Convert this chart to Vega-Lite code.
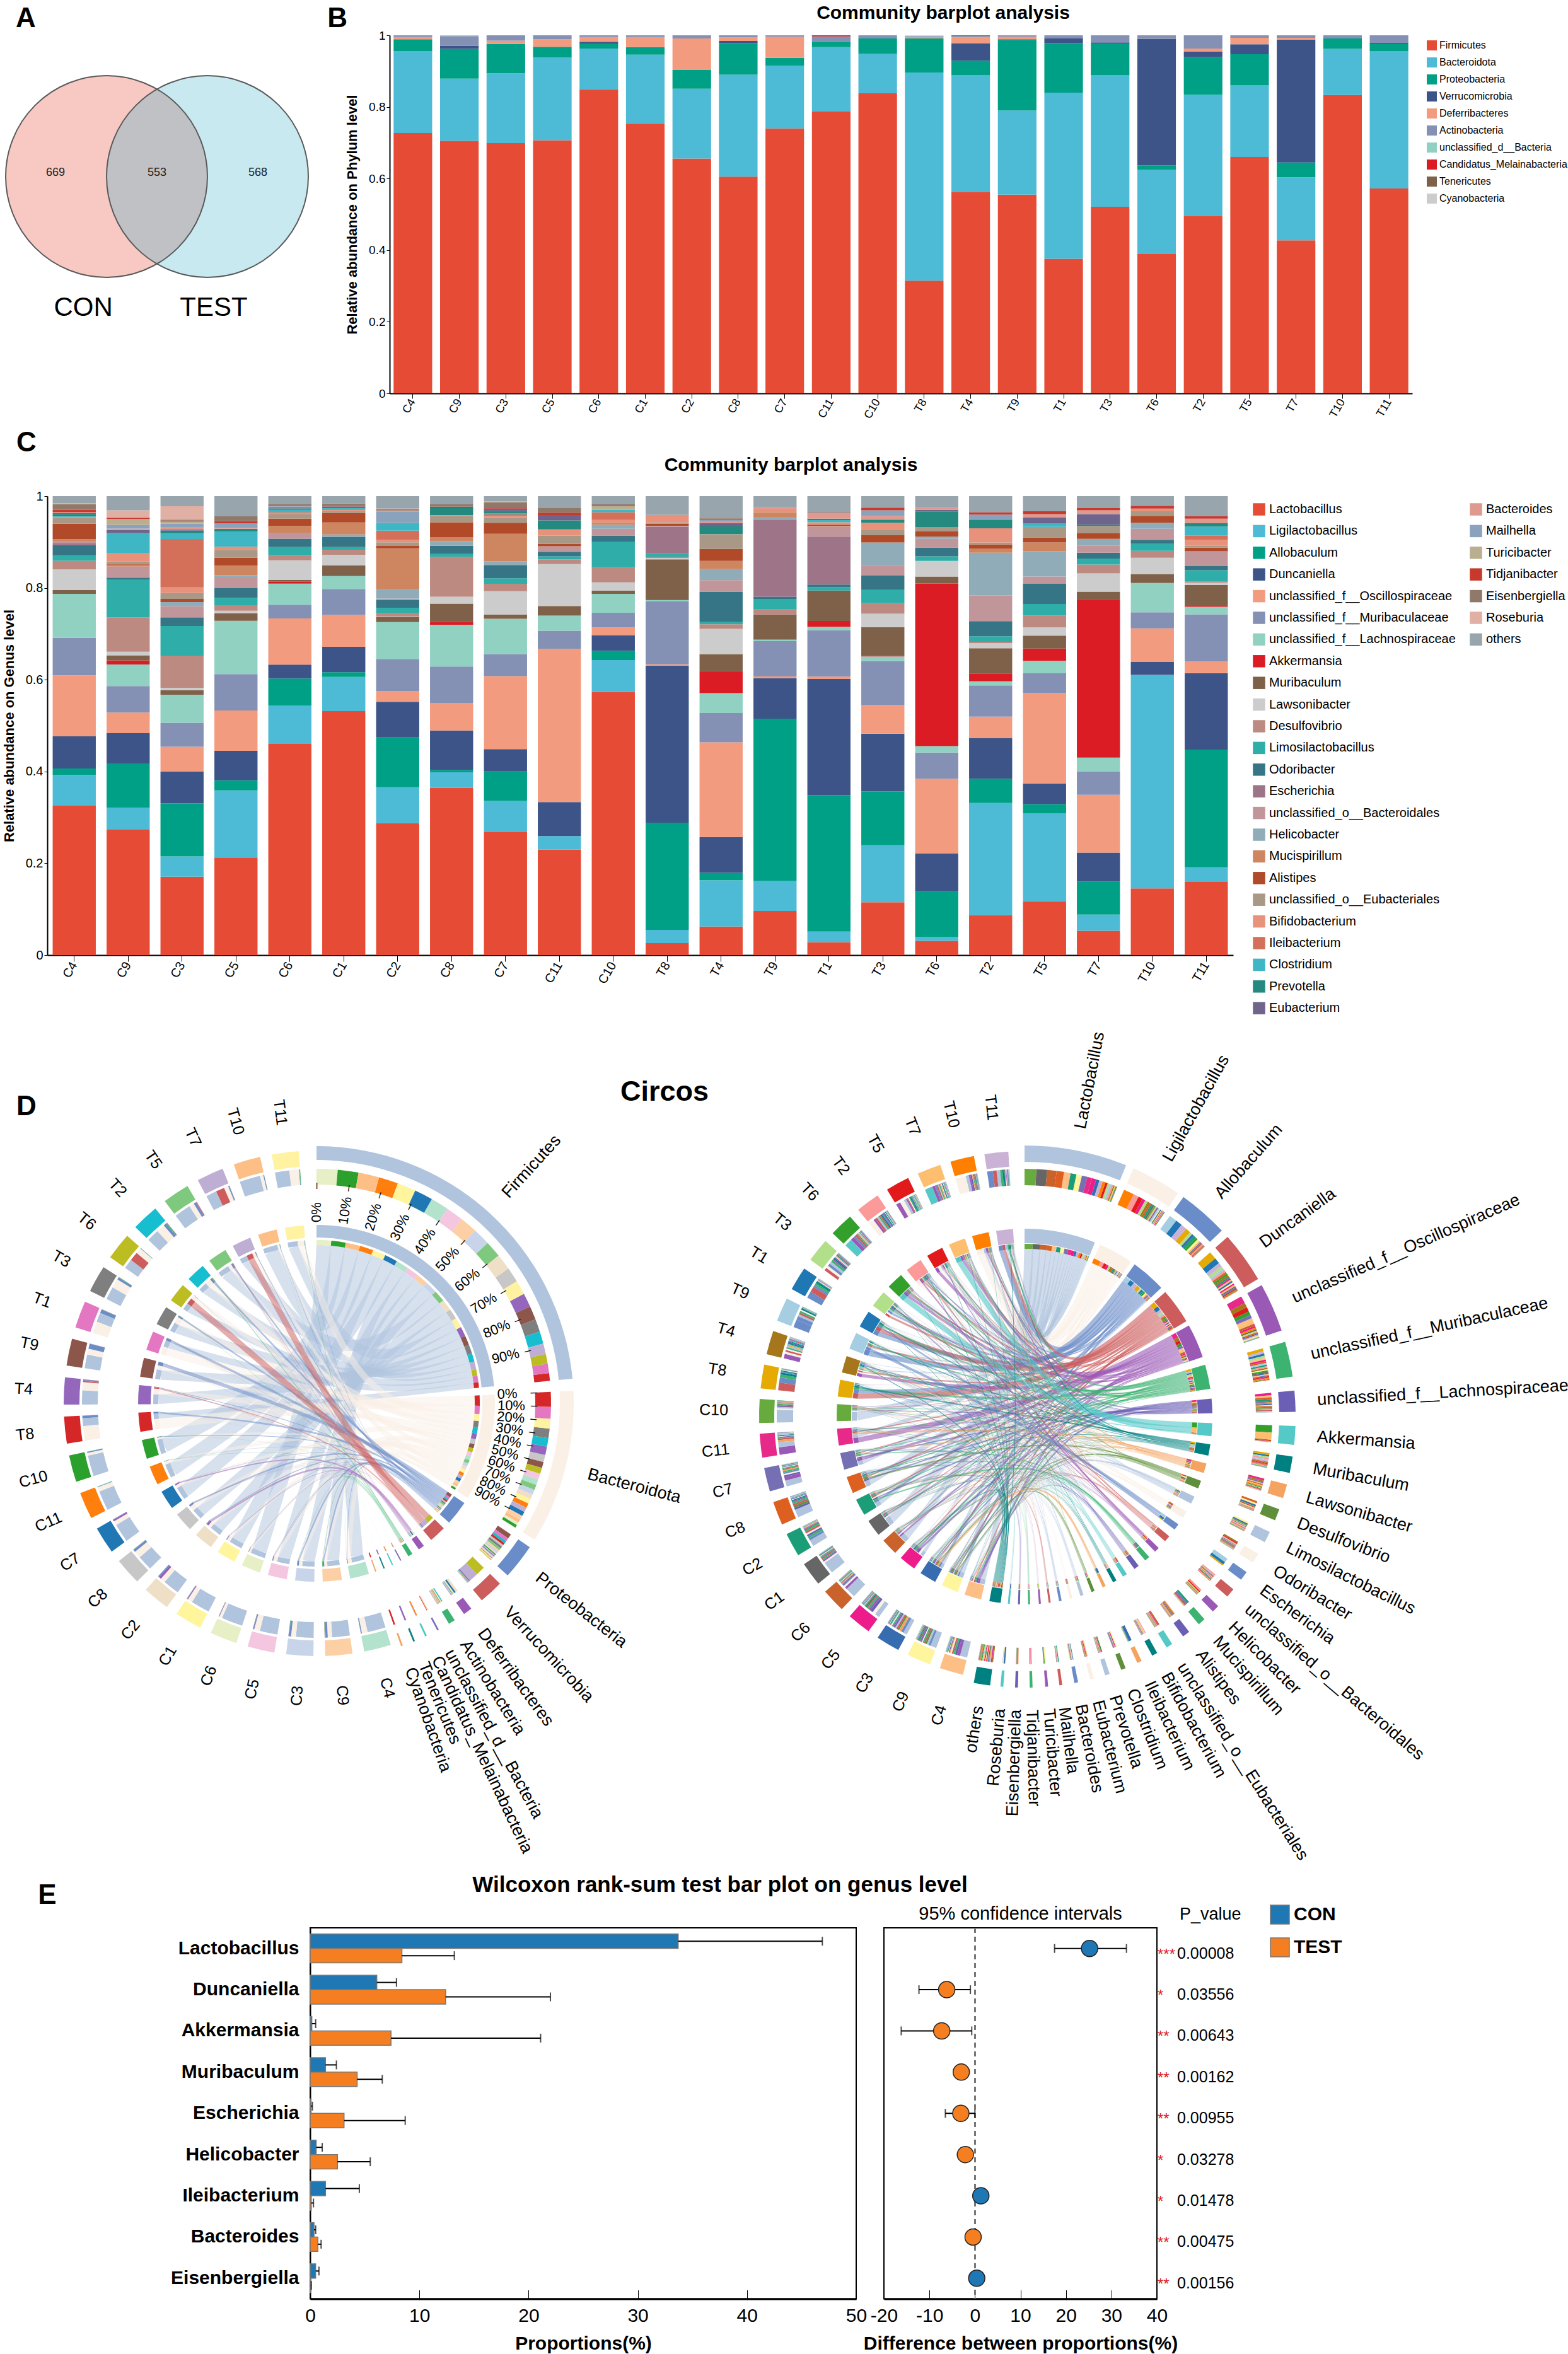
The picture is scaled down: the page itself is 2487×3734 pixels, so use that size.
{"$schema":"https://vega.github.io/schema/vega-lite/v6.json","padding":0,"spacing":0,"bounds":"flush","resolve":{"scale":{"color":"independent"}},
"config":{"font":"Liberation Sans","view":{"stroke":null},"axis":{"grid":false,"labelColor":"#000","titleColor":"#000","tickColor":"#000","domainColor":"#000"}},
"datasets":{
"phy":[
{"g":"Firmicutes","C4":0.727,"C9":0.705,"C3":0.699,"C5":0.707,"C6":0.849,"C1":0.754,"C2":0.656,"C8":0.605,"C7":0.74,"C11":0.786,"C10":0.838,"T8":0.315,"T4":0.563,"T9":0.555,"T1":0.376,"T3":0.521,"T6":0.389,"T2":0.496,"T5":0.66,"T7":0.427,"T10":0.833,"T11":0.572},
{"g":"Bacteroidota","C4":0.228,"C9":0.174,"C3":0.195,"C5":0.231,"C6":0.114,"C1":0.192,"C2":0.195,"C8":0.285,"C7":0.175,"C11":0.18,"C10":0.11,"T8":0.582,"T4":0.326,"T9":0.235,"T1":0.464,"T3":0.367,"T6":0.235,"T2":0.338,"T5":0.2,"T7":0.176,"T10":0.129,"T11":0.383},
{"g":"Proteobacteria","C4":0.034,"C9":0.083,"C3":0.082,"C5":0.03,"C6":0.014,"C1":0.021,"C2":0.053,"C8":0.088,"C7":0.022,"C11":0.016,"C10":0.043,"T8":0.095,"T4":0.04,"T9":0.197,"T1":0.138,"T3":0.088,"T6":0.013,"T2":0.105,"T5":0.087,"T7":0.041,"T10":0.029,"T11":0.022},
{"g":"Verrucomicrobia","C9":0.009,"C6":0.005,"C8":0.006,"T4":0.048,"T9":0.002,"T1":0.013,"T3":0.004,"T6":0.353,"T2":0.016,"T5":0.028,"T7":0.343,"T11":0.002},
{"g":"Deferribacteres","C4":0.006,"C3":0.009,"C5":0.021,"C6":0.013,"C1":0.028,"C2":0.087,"C8":0.01,"C7":0.059,"T8":0.004,"T4":0.017,"T9":0.007,"T2":0.008,"T5":0.018,"T7":0.005},
{"g":"Actinobacteria","C4":0.005,"C9":0.027,"C3":0.015,"C5":0.011,"C6":0.005,"C1":0.005,"C2":0.009,"C8":0.006,"C7":0.004,"C11":0.014,"C10":0.009,"T8":0.003,"T4":0.004,"T9":0.004,"T1":0.009,"T3":0.02,"T6":0.01,"T2":0.037,"T5":0.007,"T7":0.006,"T10":0.009,"T11":0.021},
{"g":"unclassified_d__Bacteria","C9":0.002,"T8":0.001},
{"g":"Candidatus_Melainabacteria","C11":0.003,"T7":0.001},
{"g":"Tenericutes","T4":0.002},
{"g":"Cyanobacteria","T8":0.001}],
"gen":[
{"g":"Lactobacillus","C4":0.326,"C9":0.274,"C3":0.17,"C5":0.212,"C6":0.461,"C1":0.528,"C2":0.286,"C8":0.364,"C7":0.269,"C11":0.23,"C10":0.573,"T8":0.026,"T4":0.062,"T9":0.096,"T1":0.028,"T3":0.115,"T6":0.031,"T2":0.087,"T5":0.117,"T7":0.053,"T10":0.145,"T11":0.16},
{"g":"Ligilactobacillus","C4":0.067,"C9":0.048,"C3":0.044,"C5":0.146,"C6":0.084,"C1":0.074,"C2":0.078,"C8":0.034,"C7":0.067,"C11":0.029,"C10":0.07,"T8":0.029,"T4":0.101,"T9":0.066,"T1":0.023,"T3":0.124,"T6":0.008,"T2":0.244,"T5":0.192,"T7":0.035,"T10":0.465,"T11":0.031},
{"g":"Allobaculum","C4":0.014,"C9":0.097,"C3":0.115,"C5":0.022,"C6":0.059,"C1":0.01,"C2":0.108,"C8":0.005,"C7":0.064,"C10":0.02,"T8":0.234,"T4":0.016,"T9":0.353,"T1":0.296,"T3":0.117,"T6":0.1,"T2":0.053,"T5":0.02,"T7":0.072,"T11":0.256},
{"g":"Duncaniella","C4":0.07,"C9":0.066,"C3":0.069,"C5":0.064,"C6":0.03,"C1":0.055,"C2":0.077,"C8":0.086,"C7":0.049,"C11":0.074,"C10":0.034,"T8":0.343,"T4":0.078,"T9":0.088,"T1":0.253,"T3":0.126,"T6":0.082,"T2":0.088,"T5":0.045,"T7":0.063,"T10":0.028,"T11":0.166},
{"g":"unclassified_f__Oscillospiraceae","C4":0.133,"C9":0.045,"C3":0.054,"C5":0.088,"C6":0.101,"C1":0.069,"C2":0.023,"C8":0.06,"C7":0.159,"C11":0.334,"C10":0.017,"T8":0.003,"T4":0.206,"T9":0.004,"T1":0.005,"T3":0.062,"T6":0.163,"T2":0.047,"T5":0.197,"T7":0.126,"T10":0.073,"T11":0.025},
{"g":"unclassified_f__Muribaculaceae","C4":0.082,"C9":0.058,"C3":0.052,"C5":0.079,"C6":0.03,"C1":0.056,"C2":0.07,"C8":0.079,"C7":0.048,"C11":0.039,"C10":0.032,"T8":0.137,"T4":0.064,"T9":0.077,"T1":0.101,"T3":0.096,"T6":0.057,"T2":0.068,"T5":0.043,"T7":0.051,"T10":0.035,"T11":0.103},
{"g":"unclassified_f__Lachnospiraceae","C4":0.096,"C9":0.047,"C3":0.061,"C5":0.116,"C6":0.046,"C1":0.028,"C2":0.08,"C8":0.091,"C7":0.077,"C11":0.033,"C10":0.041,"T8":0.003,"T4":0.043,"T9":0.003,"T1":0.007,"T3":0.01,"T6":0.014,"T2":0.009,"T5":0.027,"T7":0.03,"T10":0.064,"T11":0.016},
{"g":"Akkermansia","C9":0.009,"C6":0.004,"C8":0.006,"T8":0.001,"T4":0.048,"T9":0.001,"T1":0.013,"T3":0.003,"T6":0.354,"T2":0.017,"T5":0.027,"T7":0.345,"T11":0.002},
{"g":"Muribaculum","C4":0.008,"C9":0.011,"C3":0.01,"C5":0.016,"C6":0.004,"C1":0.023,"C2":0.011,"C8":0.04,"C7":0.009,"C11":0.021,"C10":0.007,"T8":0.088,"T4":0.037,"T9":0.054,"T1":0.066,"T3":0.061,"T6":0.015,"T2":0.055,"T5":0.028,"T7":0.016,"T10":0.019,"T11":0.046},
{"g":"Lawsonibacter","C4":0.045,"C9":0.008,"C3":0.005,"C5":0.006,"C6":0.043,"C1":0.023,"C2":0.001,"C8":0.015,"C7":0.051,"C11":0.091,"C10":0.018,"T8":0.003,"T4":0.055,"T3":0.029,"T6":0.034,"T2":0.011,"T5":0.018,"T7":0.04,"T10":0.036,"T11":0.005},
{"g":"Desulfovibrio","C4":0.019,"C9":0.075,"C3":0.07,"C5":0.012,"C6":0.01,"C1":0.011,"C2":0.008,"C8":0.087,"C7":0.016,"C11":0.01,"C10":0.033,"T8":0.003,"T4":0.01,"T9":0.011,"T3":0.023,"T2":0.003,"T5":0.026,"T7":0.019,"T10":0.015,"T11":0.002},
{"g":"Limosilactobacillus","C4":0.011,"C9":0.082,"C3":0.064,"C5":0.016,"C6":0.019,"C1":0.006,"C2":0.011,"C8":0.006,"C7":0.012,"C11":0.007,"C10":0.055,"T8":0.007,"T4":0.005,"T9":0.023,"T1":0.007,"T3":0.029,"T6":0.01,"T2":0.012,"T5":0.025,"T7":0.013,"T10":0.016,"T11":0.025},
{"g":"Odoribacter","C4":0.023,"C9":0.005,"C3":0.019,"C5":0.021,"C6":0.018,"C1":0.022,"C2":0.017,"C8":0.018,"C7":0.029,"C11":0.01,"C10":0.014,"T4":0.066,"T9":0.005,"T1":0.006,"T3":0.031,"T6":0.019,"T2":0.033,"T5":0.044,"T7":0.013,"T10":0.008,"T11":0.009},
{"g":"Escherichia","C4":0.004,"C9":0.001,"T8":0.058,"T9":0.168,"T1":0.104},
{"g":"unclassified_o__Bacteroidales","C4":0.003,"C9":0.023,"C3":0.024,"C5":0.023,"C6":0.013,"C2":0.003,"C11":0.012,"C10":0.015,"T8":0.002,"T4":0.025,"T1":0.022,"T3":0.023,"T6":0.019,"T2":0.056,"T5":0.016,"T7":0.015,"T10":0.024,"T11":0.032},
{"g":"Helicobacter","C4":0.001,"C3":0.009,"C5":0.005,"C1":0.005,"C2":0.021,"C8":0.01,"C7":0.008,"C10":0.009,"T4":0.024,"T9":0.004,"T3":0.049,"T6":0.005,"T2":0.093,"T5":0.055,"T7":0.015,"T10":0.013},
{"g":"Mucispirillum","C4":0.005,"C9":0.004,"C5":0.021,"C6":0.015,"C1":0.026,"C2":0.088,"C8":0.008,"C7":0.06,"C10":0.004,"T4":0.018,"T9":0.012,"T1":0.001,"T2":0.009,"T5":0.019},
{"g":"Alistipes","C4":0.034,"C9":0.002,"C3":0.007,"C5":0.017,"C6":0.016,"C1":0.021,"C2":0.005,"C8":0.033,"C7":0.024,"C11":0.005,"T8":0.005,"T4":0.026,"T1":0.003,"T3":0.016,"T6":0.011,"T2":0.009,"T5":0.011,"T7":0.012,"T10":0.015,"T11":0.008},
{"g":"unclassified_o__Eubacteriales","C4":0.012,"C9":0.005,"C3":0.013,"C5":0.017,"C6":0.009,"C1":0.004,"C2":0.008,"C8":0.013,"C7":0.012,"C11":0.018,"T8":0.003,"T4":0.031,"T3":0.011,"T6":0.009,"T2":0.004,"T5":0.023,"T7":0.016,"T10":0.01,"T11":0.004},
{"g":"Bifidobacterium","C4":0.002,"C9":0.018,"C3":0.012,"C5":0.007,"C6":0.003,"C1":0.002,"C2":0.005,"C8":0.001,"C7":0.003,"C11":0.012,"C10":0.006,"T8":0.016,"T4":0.001,"T9":0.006,"T1":0.005,"T3":0.016,"T2":0.031,"T10":0.006,"T11":0.013},
{"g":"Ileibacterium","C4":0.001,"C3":0.105,"C6":0.002,"C1":0.002,"C2":0.02,"C8":0.001,"C7":0.003,"C10":0.017,"T11":0.009},
{"g":"Clostridium","C4":0.001,"C9":0.044,"C3":0.012,"C5":0.033,"C6":0.005,"C1":0.002,"C2":0.017,"C8":0.001,"C7":0.003,"C11":0.002,"C10":0.005,"T1":0.005,"T5":0.008,"T11":0.02},
{"g":"Prevotella","C4":0.005,"C3":0.006,"C5":0.003,"C6":0.003,"C1":0.003,"C8":0.015,"C7":0.005,"C11":0.019,"T4":0.017,"T1":0.003,"T3":0.007,"T6":0.034,"T2":0.019,"T7":0.003,"T11":0.007},
{"g":"Eubacterium","C4":0.002,"C9":0.007,"C3":0.003,"C5":0.003,"C6":0.003,"C1":0.001,"C7":0.005,"C11":0.012,"T4":0.007,"T6":0.004,"T5":0.013,"T7":0.023},
{"g":"Bacteroides","C4":0.002,"C9":0.003,"C3":0.005,"C5":0.002,"C6":0.001,"T4":0.004,"T9":0.004,"T1":0.012,"T3":0.008,"T6":0.005,"T5":0.007,"T7":0.008,"T11":0.01},
{"g":"Mailhella","C9":0.008,"C3":0.007,"C5":0.01,"C6":0.001,"C2":0.025,"T4":0.004,"T3":0.012,"T2":0.011},
{"g":"Turicibacter","C9":0.013,"C3":0.005,"C2":0.001,"C10":0.008},
{"g":"Tidjanibacter","C4":0.005,"C9":0.002,"C3":0.002,"C5":0.005,"C6":0.002,"C1":0.002,"C2":0.001,"C8":0.003,"C7":0.003,"C11":0.005,"C10":0.001,"T4":0.002,"T1":0.001,"T3":0.006,"T2":0.005,"T5":0.006,"T7":0.005,"T10":0.006,"T11":0.005},
{"g":"Eisenbergiella","C4":0.012,"C9":0.001,"C3":0.002,"C5":0.01,"C6":0.003,"C1":0.004,"C2":0.003,"C8":0.005,"C7":0.011,"C11":0.01,"C10":0.003,"T4":0.002},
{"g":"Roseburia","C4":0.003,"C9":0.016,"C3":0.029,"C2":0.001,"C7":0.002},
{"g":"others","C4":0.015,"C9":0.031,"C3":0.022,"C5":0.044,"C6":0.017,"C1":0.016,"C2":0.027,"C8":0.018,"C7":0.011,"C11":0.026,"C10":0.018,"T8":0.041,"T4":0.047,"T9":0.025,"T1":0.036,"T3":0.025,"T6":0.025,"T2":0.035,"T5":0.033,"T7":0.026,"T10":0.021,"T11":0.044}],
"sec1":[
{"c":"Firmicutes","k":"t","t0":0,"t1":84.5},{"c":"Bacteroidota","k":"t","t0":87.2,"t1":122},{"c":"Proteobacteria","k":"t","t0":124,"t1":132},{"c":"Verrucomicrobia","k":"t","t0":134.5,"t1":140},{"c":"Deferribacteres","k":"t","t0":143,"t1":145},{"c":"Actinobacteria","k":"t","t0":147.5,"t1":149},{"c":"unclassified_d__Bacteria","k":"t","t0":151.6,"t1":152},{"c":"Candidatus_Melainabacteria","k":"t","t0":154.6,"t1":155},{"c":"Tenericutes","k":"t","t0":157.5,"t1":157.9},{"c":"Cyanobacteria","k":"t","t0":160.4,"t1":160.8},
{"c":"C4","k":"s","t0":162.9,"t1":169.1},{"c":"C9","k":"s","t0":171.8,"t1":178},{"c":"C3","k":"s","t0":180.7,"t1":186.9},{"c":"C5","k":"s","t0":189.6,"t1":195.8},{"c":"C6","k":"s","t0":198.5,"t1":204.7},{"c":"C1","k":"s","t0":207.4,"t1":213.6},{"c":"C2","k":"s","t0":216.3,"t1":222.5},{"c":"C8","k":"s","t0":225.2,"t1":231.4},{"c":"C7","k":"s","t0":234.1,"t1":240.3},{"c":"C11","k":"s","t0":243,"t1":249.2},{"c":"C10","k":"s","t0":251.9,"t1":258.1},{"c":"T8","k":"s","t0":260.8,"t1":267},{"c":"T4","k":"s","t0":269.7,"t1":275.9},{"c":"T9","k":"s","t0":278.6,"t1":284.8},{"c":"T1","k":"s","t0":287.5,"t1":293.7},{"c":"T3","k":"s","t0":296.4,"t1":302.6},{"c":"T6","k":"s","t0":305.3,"t1":311.5},{"c":"T2","k":"s","t0":314.2,"t1":320.4},{"c":"T5","k":"s","t0":323.1,"t1":329.3},{"c":"T7","k":"s","t0":332,"t1":338.2},{"c":"T10","k":"s","t0":340.9,"t1":347.1},{"c":"T11","k":"s","t0":349.8,"t1":356}],
"sec2":[
{"c":"Lactobacillus","k":"t","t0":0,"t1":22},{"c":"Ligilactobacillus","k":"t","t0":23.7,"t1":34.5},{"c":"Allobaculum","k":"t","t0":35.9,"t1":46.7},{"c":"Duncaniella","k":"t","t0":48.5,"t1":59.5},{"c":"unclassified_f__Oscillospiraceae","k":"t","t0":61,"t1":71.5},{"c":"unclassified_f__Muribaculaceae","k":"t","t0":74,"t1":81.5},{"c":"unclassified_f__Lachnospiraceae","k":"t","t0":84.5,"t1":89},{"c":"Akkermansia","k":"t","t0":92,"t1":96},{"c":"Muribaculum","k":"t","t0":98.5,"t1":102},{"c":"Lawsonibacter","k":"t","t0":104.5,"t1":107.5},{"c":"Desulfovibrio","k":"t","t0":110,"t1":112.5},{"c":"Limosilactobacillus","k":"t","t0":115.2,"t1":117.6},{"c":"Odoribacter","k":"t","t0":120.4,"t1":122.6},{"c":"Escherichia","k":"t","t0":125,"t1":127},{"c":"unclassified_o__Bacteroidales","k":"t","t0":129.6,"t1":131.6},{"c":"Helicobacter","k":"t","t0":134.4,"t1":136},{"c":"Mucispirillum","k":"t","t0":138.4,"t1":140},{"c":"Alistipes","k":"t","t0":142.6,"t1":144.2},{"c":"unclassified_o__Eubacteriales","k":"t","t0":147,"t1":148.4},{"c":"Bifidobacterium","k":"t","t0":150.7,"t1":151.9},{"c":"Ileibacterium","k":"t","t0":154.4,"t1":155.4},{"c":"Clostridium","k":"t","t0":158.1,"t1":159.1},{"c":"Prevotella","k":"t","t0":161.7,"t1":162.7},{"c":"Eubacterium","k":"t","t0":165.2,"t1":166},{"c":"Bacteroides","k":"t","t0":168.6,"t1":169.4},{"c":"Mailhella","k":"t","t0":172,"t1":172.6},{"c":"Turicibacter","k":"t","t0":175,"t1":175.6},{"c":"Tidjanibacter","k":"t","t0":178.3,"t1":178.9},{"c":"Eisenbergiella","k":"t","t0":181.4,"t1":182},{"c":"Roseburia","k":"t","t0":184.5,"t1":185.1},{"c":"others","k":"t","t0":187.3,"t1":190.8},
{"c":"C4","k":"s","t0":193.4,"t1":198.6},{"c":"C9","k":"s","t0":200.9,"t1":206.1},{"c":"C3","k":"s","t0":208.4,"t1":213.6},{"c":"C5","k":"s","t0":216,"t1":221.2},{"c":"C6","k":"s","t0":223.5,"t1":228.7},{"c":"C1","k":"s","t0":231,"t1":236.2},{"c":"C2","k":"s","t0":238.5,"t1":243.7},{"c":"C8","k":"s","t0":246,"t1":251.2},{"c":"C7","k":"s","t0":253.6,"t1":258.8},{"c":"C11","k":"s","t0":261.1,"t1":266.3},{"c":"C10","k":"s","t0":268.6,"t1":273.8},{"c":"T8","k":"s","t0":276.1,"t1":281.3},{"c":"T4","k":"s","t0":283.6,"t1":288.8},{"c":"T9","k":"s","t0":291.2,"t1":296.4},{"c":"T1","k":"s","t0":298.7,"t1":303.9},{"c":"T3","k":"s","t0":306.2,"t1":311.4},{"c":"T6","k":"s","t0":313.7,"t1":318.9},{"c":"T2","k":"s","t0":321.2,"t1":326.4},{"c":"T5","k":"s","t0":328.8,"t1":334},{"c":"T7","k":"s","t0":336.3,"t1":341.5},{"c":"T10","k":"s","t0":343.8,"t1":349},{"c":"T11","k":"s","t0":351.3,"t1":356.5}],
"ticks":[{"c":"Firmicutes","pct":0},{"c":"Firmicutes","pct":10},{"c":"Firmicutes","pct":20},{"c":"Firmicutes","pct":30},{"c":"Firmicutes","pct":40},{"c":"Firmicutes","pct":50},{"c":"Firmicutes","pct":60},{"c":"Firmicutes","pct":70},{"c":"Firmicutes","pct":80},{"c":"Firmicutes","pct":90},{"c":"Bacteroidota","pct":0},{"c":"Bacteroidota","pct":10},{"c":"Bacteroidota","pct":20},{"c":"Bacteroidota","pct":30},{"c":"Bacteroidota","pct":40},{"c":"Bacteroidota","pct":50},{"c":"Bacteroidota","pct":60},{"c":"Bacteroidota","pct":70},{"c":"Bacteroidota","pct":80},{"c":"Bacteroidota","pct":90}]
},
"vconcat":[
{"width":100,"height":56,"data":{"values":[]},"mark":"point"},
{"spacing":0,"bounds":"flush","resolve":{"scale":{"color":"independent"}},"hconcat":[
{"width":618,"height":731,
"encoding":{"x":{"field":"x","type":"quantitative","axis":null,"scale":{"domain":[-1.056,2.806],"nice":false,"zero":false}},"y":{"field":"y","type":"quantitative","axis":null,"scale":{"domain":[-3.169,1.4],"nice":false,"zero":false}}},
"layer":[
{"data":{"values":[{"set":"CON","x":0,"y":0},{"set":"TEST","x":1,"y":0}]},"mark":{"type":"point","filled":true,"opacity":1,"size":102400,"shape":"circle"},"encoding":{"color":{"field":"set","type":"nominal","legend":null,"scale":{"domain":["CON","TEST"],"range":["#f7c9c2","#c8e9f0"]}}}},
{"data":{"values":[{"i":1,"x":0.5,"y":0.866},{"i":2,"x":0.643,"y":0.766},{"i":3,"x":0.766,"y":0.643},{"i":4,"x":0.866,"y":0.5},{"i":5,"x":0.94,"y":0.342},{"i":6,"x":0.985,"y":0.174},{"i":7,"x":1,"y":0},{"i":8,"x":0.985,"y":-0.174},{"i":9,"x":0.94,"y":-0.342},{"i":10,"x":0.866,"y":-0.5},{"i":11,"x":0.766,"y":-0.643},{"i":12,"x":0.643,"y":-0.766},{"i":13,"x":0.5,"y":-0.866},{"i":14,"x":0.357,"y":-0.766},{"i":15,"x":0.234,"y":-0.643},{"i":16,"x":0.134,"y":-0.5},{"i":17,"x":0.06,"y":-0.342},{"i":18,"x":0.015,"y":-0.174},{"i":19,"x":0,"y":0},{"i":20,"x":0.015,"y":0.174},{"i":21,"x":0.06,"y":0.342},{"i":22,"x":0.134,"y":0.5},{"i":23,"x":0.234,"y":0.643},{"i":24,"x":0.357,"y":0.766},{"i":25,"x":0.5,"y":0.866}]},"mark":{"type":"line","fill":"#c0c1c5","filled":true,"stroke":"#c0c1c5","strokeWidth":0},"encoding":{"order":{"field":"i"}}},
{"data":{"values":[{"x":0,"y":0},{"x":1,"y":0}]},"mark":{"type":"point","filled":false,"opacity":1,"size":102400,"shape":"circle","stroke":"#5a5a5a","strokeWidth":2}},
{"data":{"values":[{"t":"669","x":-0.506,"y":0.04},{"t":"553","x":0.5,"y":0.04},{"t":"568","x":1.5,"y":0.04}]},"mark":{"type":"text","fontSize":18,"color":"#222"},"encoding":{"text":{"field":"t"}}},
{"data":{"values":[{"t":"CON","x":-0.23,"y":-1.3},{"t":"TEST","x":1.0625,"y":-1.3}]},"mark":{"type":"text","fontSize":42,"color":"#000"},"encoding":{"text":{"field":"t"}}},
{"data":{"values":[{"t":"A","x":-0.8,"y":1.56},{"t":"B","x":2.2875,"y":1.56},{"t":"C","x":-0.794,"y":-2.644}]},"mark":{"type":"text","fontSize":44,"fontWeight":"bold","color":"#000"},"encoding":{"text":{"field":"t"}}}
]},
{"width":1622,"height":568,"title":{"text":"Community barplot analysis","fontSize":30,"fontWeight":"bold","anchor":"middle","dx":67,"offset":11,"color":"#000"},
"data":{"name":"phy"},
"transform":[{"window":[{"op":"row_number","as":"o"}]},{"fold":["C4","C9","C3","C5","C6","C1","C2","C8","C7","C11","C10","T8","T4","T9","T1","T3","T6","T2","T5","T7","T10","T11"],"as":["s","v"]},{"filter":"datum.v>0"},{"stack":"v","groupby":["s"],"sort":[{"field":"o"}],"offset":"normalize","as":["y0","y1"]}],
"mark":{"type":"bar"},
"encoding":{
"x":{"field":"s","type":"nominal","sort":["C4","C9","C3","C5","C6","C1","C2","C8","C7","C11","C10","T8","T4","T9","T1","T3","T6","T2","T5","T7","T10","T11"],"scale":{"paddingInner":0.17,"paddingOuter":0.085},"axis":{"title":null,"labelAngle":-60,"labelFontSize":18,"tickSize":8,"domainWidth":2}},
"y":{"field":"y0","type":"quantitative","scale":{"domain":[0,1],"nice":false},"axis":{"title":"Relative abundance on Phylum level","titleFontSize":22,"titleFontWeight":"bold","titlePadding":14,"values":[0,0.2,0.4,0.6,0.8,1],"format":"~g","labelFontSize":19,"domainWidth":2}},
"y2":{"field":"y1"},
"color":{"field":"g","type":"nominal","scale":{"domain":["Firmicutes","Bacteroidota","Proteobacteria","Verrucomicrobia","Deferribacteres","Actinobacteria","unclassified_d__Bacteria","Candidatus_Melainabacteria","Tenericutes","Cyanobacteria"],"range":["#e64b35","#4dbbd5","#00a087","#3c5488","#f39b7f","#8491b4","#91d1c2","#dc1c24","#7e6148","#cccccc"]},"legend":{"title":null,"orient":"none","legendX":1645,"legendY":8,"symbolType":"square","symbolSize":256,"symbolStrokeWidth":0,"labelFontSize":16,"rowPadding":11,"labelOffset":4,"labelLimit":400,"labelColor":"#000"}}
}}
]},
{"width":100,"height":731,"data":{"values":[]},"mark":"point"},
{"spacing":0,"bounds":"flush","resolve":{"scale":{"color":"independent"}},"hconcat":[
{"width":75,"height":728,"data":{"values":[]},"mark":"point"},
{"width":1881,"height":728,"title":{"text":"Community barplot analysis","fontSize":30,"fontWeight":"bold","anchor":"middle","dx":239,"offset":24,"color":"#000"},
"data":{"name":"gen"},
"transform":[{"window":[{"op":"row_number","as":"o"}]},{"fold":["C4","C9","C3","C5","C6","C1","C2","C8","C7","C11","C10","T8","T4","T9","T1","T3","T6","T2","T5","T7","T10","T11"],"as":["s","v"]},{"filter":"datum.v>0"},{"stack":"v","groupby":["s"],"sort":[{"field":"o"}],"offset":"normalize","as":["y0","y1"]}],
"encoding":{
"x":{"field":"s","type":"nominal","sort":["C4","C9","C3","C5","C6","C1","C2","C8","C7","C11","C10","T8","T4","T9","T1","T3","T6","T2","T5","T7","T10","T11"],"scale":{"paddingInner":0.2,"paddingOuter":0.1},"axis":{"title":null,"labelAngle":-60,"labelFontSize":20,"tickSize":10,"domainWidth":2}},
"y":{"field":"y0","type":"quantitative","scale":{"domain":[0,1],"nice":false},"axis":{"title":"Relative abundance on Genus level","titleFontSize":22,"titleFontWeight":"bold","titlePadding":14,"values":[0,0.2,0.4,0.6,0.8,1],"format":"~g","labelFontSize":20,"domainWidth":2}},
"y2":{"field":"y1"}},
"resolve":{"scale":{"color":"independent"}},
"layer":[
{"transform":[{"filter":"datum.o<=24"}],"mark":{"type":"bar"},"encoding":{"color":{"field":"g","type":"nominal","scale":{"domain":["Lactobacillus","Ligilactobacillus","Allobaculum","Duncaniella","unclassified_f__Oscillospiraceae","unclassified_f__Muribaculaceae","unclassified_f__Lachnospiraceae","Akkermansia","Muribaculum","Lawsonibacter","Desulfovibrio","Limosilactobacillus","Odoribacter","Escherichia","unclassified_o__Bacteroidales","Helicobacter","Mucispirillum","Alistipes","unclassified_o__Eubacteriales","Bifidobacterium","Ileibacterium","Clostridium","Prevotella","Eubacterium"],"range":["#e64b35","#4dbbd5","#00a087","#3c5488","#f39b7f","#8491b4","#91d1c2","#dc1c24","#7e6148","#cccccc","#bc8a80","#2fada8","#357585","#9e7488","#c1969a","#8facb8","#cd8660","#b04a28","#a89885","#e8927c","#d4705a","#3eb6c4","#24897e","#6f648c"]},"legend":{"title":null,"orient":"none","legendX":1912,"legendY":11,"symbolType":"square","symbolSize":380,"symbolStrokeWidth":0,"labelFontSize":20,"rowPadding":14.4,"labelOffset":6,"labelLimit":500,"labelColor":"#000","symbolLimit":40}}}},
{"transform":[{"filter":"datum.o>24"}],"mark":{"type":"bar"},"encoding":{"color":{"field":"g","type":"nominal","scale":{"domain":["Bacteroides","Mailhella","Turicibacter","Tidjanibacter","Eisenbergiella","Roseburia","others"],"range":["#de9a8e","#8ba2bc","#b9ae90","#c8392d","#8f7a6a","#e0b0a4","#98a5ad"]},"legend":{"title":null,"orient":"none","legendX":2256,"legendY":11,"symbolType":"square","symbolSize":380,"symbolStrokeWidth":0,"labelFontSize":20,"rowPadding":14.4,"labelOffset":6,"labelLimit":500,"labelColor":"#000"}}}}
]}
]},
{"width":100,"height":728,"data":{"values":[]},"mark":"point"},
{"spacing":0,"bounds":"flush","resolve":{"scale":{"color":"independent"}},"hconcat":[
{"width":1004,"height":1422,
"data":{"name":"phy"},
"transform":[{"fold":["C4","C9","C3","C5","C6","C1","C2","C8","C7","C11","C10","T8","T4","T9","T1","T3","T6","T2","T5","T7","T10","T11"],"as":["s","v"]},{"filter":"datum.v>0"},
{"lookup":"s","from":{"data":{"name":"sec1"},"key":"c","fields":["t0","t1"]},"as":["sa","sb"]},
{"lookup":"g","from":{"data":{"name":"sec1"},"key":"c","fields":["t0","t1"]},"as":["ta","tb"]},
{"stack":"v","groupby":["s"],"sort":[{"field":"v","order":"descending"}],"offset":"normalize","as":["c0","c1"]},
{"stack":"v","groupby":["g"],"sort":[{"field":"v","order":"descending"}],"offset":"normalize","as":["d0","d1"]},
{"calculate":"datum.sa+datum.c0*(datum.sb-datum.sa)","as":"u0"},{"calculate":"datum.sa+datum.c1*(datum.sb-datum.sa)","as":"u1"},{"calculate":"datum.ta+datum.d0*(datum.tb-datum.ta)","as":"w0"},{"calculate":"datum.ta+datum.d1*(datum.tb-datum.ta)","as":"w1"}],
"encoding":{"color":{"field":"c","type":"nominal","legend":null,"scale":{"domain":["Firmicutes","Bacteroidota","Proteobacteria","Verrucomicrobia","Deferribacteres","Actinobacteria","unclassified_d__Bacteria","Candidatus_Melainabacteria","Tenericutes","Cyanobacteria","C4","C9","C3","C5","C6","C1","C2","C8","C7","C11","C10","T8","T4","T9","T1","T3","T6","T2","T5","T7","T10","T11"],"range":["#b0c4de","#faf0e6","#6a8cc8","#cd5c5c","#9b59b6","#3cb371","#7d6fc0","#48c9c9","#108080","#f4a460","#b3e2cd","#fdcfa5","#c8d4e9","#f4c6e0","#e6efc5","#fff59d","#efdfc7","#c7c7c7","#1f77b4","#ff7f0e","#2ca02c","#d62728","#9467bd","#8c564b","#e377c2","#7f7f7f","#bcbd22","#17becf","#7fc97f","#beaed4","#fdbf86","#fff2a0"]}}},
"layer":[
{"transform":[{"calculate":"(datum.u0+datum.u1)/2","as":"p1"},{"calculate":"(datum.w0+datum.w1)/2","as":"p3"},{"calculate":"datum.p3","as":"p2"},{"calculate":"(datum.u1-datum.u0)*0.01745*251","as":"sw"},{"fold":["p1","p2","p3"],"as":["k","deg"]},{"calculate":"datum.k=='p2'?70:251","as":"r"},{"calculate":"datum.r*sin(datum.deg*PI/180)","as":"px"},{"calculate":"datum.r*cos(datum.deg*PI/180)","as":"py"},{"calculate":"datum.g","as":"c"}],
"mark":{"type":"line","interpolate":"basis","opacity":0.5,"strokeCap":"butt"},
"encoding":{"x":{"field":"px","type":"quantitative","axis":null,"scale":{"domain":[-502,502],"nice":false,"zero":false}},"y":{"field":"py","type":"quantitative","axis":null,"scale":{"domain":[-711,711],"nice":false,"zero":false}},"detail":[{"field":"s"},{"field":"g"}],"order":{"field":"k"},"strokeWidth":{"field":"sw","type":"quantitative","scale":null,"legend":null}}},
{"encoding":{"theta":{"field":"t0","type":"quantitative","scale":{"domain":[0,360],"range":[0,6.283185],"nice":false}},"theta2":{"field":"t1"}},
"layer":[
{"data":{"name":"sec1"},"transform":[{"filter":"datum.k=='s'"}],"mark":{"type":"arc","radius":401,"radius2":376}},
{"data":{"name":"sec1"},"transform":[{"filter":"datum.k=='t'"}],"mark":{"type":"arc","radius":408,"radius2":386}},
{"data":{"name":"sec1"},"mark":{"type":"arc","radius":283,"radius2":263}},
{"transform":[{"calculate":"datum.u0","as":"t0"},{"calculate":"datum.u1","as":"t1"},{"calculate":"datum.g","as":"c"}],"mark":{"type":"arc","radius":372,"radius2":347}},
{"transform":[{"calculate":"datum.w0","as":"t0"},{"calculate":"datum.w1","as":"t1"},{"calculate":"datum.s","as":"c"}],"mark":{"type":"arc","radius":372,"radius2":347}},
{"transform":[{"calculate":"datum.u0","as":"t0"},{"calculate":"datum.u1","as":"t1"},{"calculate":"datum.g","as":"c"}],"mark":{"type":"arc","radius":259,"radius2":251}},
{"transform":[{"calculate":"datum.w0","as":"t0"},{"calculate":"datum.w1","as":"t1"},{"calculate":"datum.s","as":"c"}],"mark":{"type":"arc","radius":259,"radius2":251}}
]},
{"encoding":{"x":{"field":"px","type":"quantitative","axis":null,"scale":{"domain":[-502,502],"nice":false,"zero":false}},"y":{"field":"py","type":"quantitative","axis":null,"scale":{"domain":[-711,711],"nice":false,"zero":false}},"color":{"value":"#000"},"angle":{"field":"ang","type":"quantitative","scale":null},"text":{"field":"c"}},
"layer":[
{"data":{"name":"sec1"},"transform":[{"filter":"datum.k=='s'"},{"calculate":"(datum.t0+datum.t1)/2","as":"m"},{"calculate":"465*sin(datum.m*PI/180)","as":"px"},{"calculate":"465*cos(datum.m*PI/180)","as":"py"},{"calculate":"datum.m<180?datum.m-90:datum.m-270","as":"ang"}],"mark":{"type":"text","fontSize":25,"align":"center","baseline":"middle"}},
{"data":{"name":"sec1"},"transform":[{"filter":"datum.k=='t'"},{"calculate":"(datum.t0+datum.t1)/2","as":"m"},{"calculate":"445*sin(datum.m*PI/180)","as":"px"},{"calculate":"445*cos(datum.m*PI/180)","as":"py"},{"calculate":"datum.m-90","as":"ang"}],"mark":{"type":"text","fontSize":27,"align":"left","baseline":"middle"}},
{"data":{"name":"ticks"},"transform":[{"lookup":"c","from":{"data":{"name":"sec1"},"key":"c","fields":["t0","t1"]}},{"calculate":"datum.t0+datum.pct/100*(datum.t1-datum.t0)","as":"m"},{"calculate":"287*sin(datum.m*PI/180)","as":"px"},{"calculate":"287*cos(datum.m*PI/180)","as":"py"},{"calculate":"datum.m-90","as":"ang"},{"calculate":"datum.pct+'%'","as":"lab"}],"mark":{"type":"text","fontSize":22,"align":"left","baseline":"middle"},"encoding":{"text":{"field":"lab"}}},
{"data":{"name":"ticks"},"transform":[{"lookup":"c","from":{"data":{"name":"sec1"},"key":"c","fields":["t0","t1"]}},{"calculate":"datum.t0+datum.pct/100*(datum.t1-datum.t0)","as":"m"},{"calculate":"340*sin(datum.m*PI/180)","as":"px"},{"calculate":"340*cos(datum.m*PI/180)","as":"py"},{"calculate":"datum.m-90","as":"ang"}],"mark":{"type":"text","fontSize":18,"align":"left","baseline":"middle"},"encoding":{"text":{"value":"–"}}},
{"data":{"values":[{"c":"D","px":-460,"py":470},{"c":"E","px":-427,"py":-781}]},"mark":{"type":"text","fontSize":44,"fontWeight":"bold"},"encoding":{"angle":{"value":0}}},
{"data":{"values":[{"c":"Circos","px":552,"py":494}]},"mark":{"type":"text","fontSize":45,"fontWeight":"bold"},"encoding":{"angle":{"value":0}}}
]}
]},
{"width":1242,"height":1464,
"data":{"name":"gen"},
"transform":[{"fold":["C4","C9","C3","C5","C6","C1","C2","C8","C7","C11","C10","T8","T4","T9","T1","T3","T6","T2","T5","T7","T10","T11"],"as":["s","v"]},{"filter":"datum.v>0"},
{"lookup":"s","from":{"data":{"name":"sec2"},"key":"c","fields":["t0","t1"]},"as":["sa","sb"]},
{"lookup":"g","from":{"data":{"name":"sec2"},"key":"c","fields":["t0","t1"]},"as":["ta","tb"]},
{"stack":"v","groupby":["s"],"sort":[{"field":"v","order":"descending"}],"offset":"normalize","as":["c0","c1"]},
{"stack":"v","groupby":["g"],"sort":[{"field":"v","order":"descending"}],"offset":"normalize","as":["d0","d1"]},
{"calculate":"datum.sa+datum.c0*(datum.sb-datum.sa)","as":"u0"},{"calculate":"datum.sa+datum.c1*(datum.sb-datum.sa)","as":"u1"},{"calculate":"datum.ta+datum.d0*(datum.tb-datum.ta)","as":"w0"},{"calculate":"datum.ta+datum.d1*(datum.tb-datum.ta)","as":"w1"}],
"encoding":{"color":{"field":"c","type":"nominal","legend":null,"scale":{"domain":["Lactobacillus","Ligilactobacillus","Allobaculum","Duncaniella","unclassified_f__Oscillospiraceae","unclassified_f__Muribaculaceae","unclassified_f__Lachnospiraceae","Akkermansia","Muribaculum","Lawsonibacter","Desulfovibrio","Limosilactobacillus","Odoribacter","Escherichia","unclassified_o__Bacteroidales","Helicobacter","Mucispirillum","Alistipes","unclassified_o__Eubacteriales","Bifidobacterium","Ileibacterium","Clostridium","Prevotella","Eubacterium","Bacteroides","Mailhella","Turicibacter","Tidjanibacter","Eisenbergiella","Roseburia","others","C4","C9","C3","C5","C6","C1","C2","C8","C7","C11","C10","T8","T4","T9","T1","T3","T6","T2","T5","T7","T10","T11"],"range":["#b0c4de","#faf0e6","#6a8cc8","#cd5c5c","#9b59b6","#3cb371","#6a5fb5","#55c8c8","#008080","#f4a460","#5f8f3a","#b0c4de","#faf0e6","#6a8cc8","#cd5c5c","#9b59b6","#3cb371","#6a5fb5","#55c8c8","#008080","#f4a460","#5f8f3a","#b0c4de","#faf0e6","#6a8cc8","#cd5c5c","#9b59b6","#3cb371","#6a5fb5","#55c8c8","#008080","#fdbf85","#fff59d","#386cb0","#ee1c8a","#c9622b","#666666","#1b9e77","#dd6020","#7570b3","#e7298a","#67ab3f","#e6ab02","#a6761d","#a6cee3","#1f78b4","#b2df8a","#33a02c","#fb9a99","#e31a1c","#fdbf6f","#ff7f00","#cab2d6"]}}},
"layer":[
{"transform":[{"calculate":"(datum.u0+datum.u1)/2","as":"p1"},{"calculate":"(datum.w0+datum.w1)/2","as":"p3"},{"calculate":"datum.p3","as":"p2"},{"calculate":"(datum.u1-datum.u0)*0.01745*266","as":"sw"},{"fold":["p1","p2","p3"],"as":["k","deg"]},{"calculate":"datum.k=='p2'?60:266","as":"r"},{"calculate":"datum.r*sin(datum.deg*PI/180)","as":"px"},{"calculate":"datum.r*cos(datum.deg*PI/180)","as":"py"},{"calculate":"datum.g","as":"c"}],
"mark":{"type":"line","interpolate":"basis","opacity":0.6,"strokeCap":"butt"},
"encoding":{"x":{"field":"px","type":"quantitative","axis":null,"scale":{"domain":[-621,621],"nice":false,"zero":false}},"y":{"field":"py","type":"quantitative","axis":null,"scale":{"domain":[-732,732],"nice":false,"zero":false}},"detail":[{"field":"s"},{"field":"g"}],"order":{"field":"k"},"strokeWidth":{"field":"sw","type":"quantitative","scale":null,"legend":null}}},
{"encoding":{"theta":{"field":"t0","type":"quantitative","scale":{"domain":[0,360],"range":[0,6.283185],"nice":false}},"theta2":{"field":"t1"}},
"layer":[
{"data":{"name":"sec2"},"transform":[{"filter":"datum.k=='s'"}],"mark":{"type":"arc","radius":421,"radius2":397}},
{"data":{"name":"sec2"},"transform":[{"filter":"datum.k=='t'"}],"mark":{"type":"arc","radius":430,"radius2":404}},
{"data":{"name":"sec2"},"mark":{"type":"arc","radius":298,"radius2":275}},
{"transform":[{"calculate":"datum.u0","as":"t0"},{"calculate":"datum.u1","as":"t1"},{"calculate":"datum.g","as":"c"}],"mark":{"type":"arc","radius":393,"radius2":367}},
{"transform":[{"calculate":"datum.w0","as":"t0"},{"calculate":"datum.w1","as":"t1"},{"calculate":"datum.s","as":"c"}],"mark":{"type":"arc","radius":393,"radius2":367}},
{"transform":[{"calculate":"datum.u0","as":"t0"},{"calculate":"datum.u1","as":"t1"},{"calculate":"datum.g","as":"c"}],"mark":{"type":"arc","radius":274,"radius2":266}},
{"transform":[{"calculate":"datum.w0","as":"t0"},{"calculate":"datum.w1","as":"t1"},{"calculate":"datum.s","as":"c"}],"mark":{"type":"arc","radius":274,"radius2":266}}
]},
{"encoding":{"x":{"field":"px","type":"quantitative","axis":null,"scale":{"domain":[-621,621],"nice":false,"zero":false}},"y":{"field":"py","type":"quantitative","axis":null,"scale":{"domain":[-732,732],"nice":false,"zero":false}},"color":{"value":"#000"},"angle":{"field":"ang","type":"quantitative","scale":null},"text":{"field":"c"}},
"layer":[
{"data":{"name":"sec2"},"transform":[{"filter":"datum.k=='s'"},{"calculate":"(datum.t0+datum.t1)/2","as":"m"},{"calculate":"493*sin(datum.m*PI/180)","as":"px"},{"calculate":"493*cos(datum.m*PI/180)","as":"py"},{"calculate":"datum.m<180?datum.m-90:datum.m-270","as":"ang"}],"mark":{"type":"text","fontSize":25,"align":"center","baseline":"middle"}},
{"data":{"name":"sec2"},"transform":[{"filter":"datum.k=='t'&&datum.t0<180"},{"calculate":"(datum.t0+datum.t1)/2","as":"m"},{"calculate":"465*sin(datum.m*PI/180)","as":"px"},{"calculate":"465*cos(datum.m*PI/180)","as":"py"},{"calculate":"datum.m-90","as":"ang"}],"mark":{"type":"text","fontSize":27,"align":"left","baseline":"middle"}},
{"data":{"name":"sec2"},"transform":[{"filter":"datum.k=='t'&&datum.t0>=180"},{"calculate":"(datum.t0+datum.t1)/2","as":"m"},{"calculate":"465*sin(datum.m*PI/180)","as":"px"},{"calculate":"465*cos(datum.m*PI/180)","as":"py"},{"calculate":"datum.m-270","as":"ang"}],"mark":{"type":"text","fontSize":27,"align":"right","baseline":"middle"}}
]}
]}
]},
{"width":100,"height":1543,"data":{"values":[]},"mark":"point"},
{"spacing":0,"bounds":"flush","resolve":{"scale":{"color":"independent"}},"hconcat":[
{"width":492,"height":588,"data":{"values":[]},"mark":"point"},
{"width":866,"height":588.5,"title":{"text":"Wilcoxon rank-sum test bar plot on genus level","fontSize":35,"fontWeight":"bold","anchor":"middle","dx":217,"offset":50,"color":"#000"},
"view":{"stroke":"#000","strokeWidth":2},
"data":{"values":[
{"genus":"Lactobacillus","group":"CON","mean":33.7,"hi":46.9},{"genus":"Lactobacillus","group":"TEST","mean":8.4,"hi":13.2},
{"genus":"Duncaniella","group":"CON","mean":6.1,"hi":7.9},{"genus":"Duncaniella","group":"TEST","mean":12.4,"hi":22},
{"genus":"Akkermansia","group":"CON","mean":0.15,"hi":0.5},{"genus":"Akkermansia","group":"TEST","mean":7.4,"hi":21.1},
{"genus":"Muribaculum","group":"CON","mean":1.4,"hi":2.4},{"genus":"Muribaculum","group":"TEST","mean":4.3,"hi":6.6},
{"genus":"Escherichia","group":"CON","mean":0.08,"hi":0.2},{"genus":"Escherichia","group":"TEST","mean":3.1,"hi":8.7},
{"genus":"Helicobacter","group":"CON","mean":0.55,"hi":1.1},{"genus":"Helicobacter","group":"TEST","mean":2.5,"hi":5.5},
{"genus":"Ileibacterium","group":"CON","mean":1.4,"hi":4.5},{"genus":"Ileibacterium","group":"TEST","mean":0.1,"hi":0.3},
{"genus":"Bacteroides","group":"CON","mean":0.35,"hi":0.5},{"genus":"Bacteroides","group":"TEST","mean":0.7,"hi":1},
{"genus":"Eisenbergiella","group":"CON","mean":0.5,"hi":0.8},{"genus":"Eisenbergiella","group":"TEST","mean":0.05,"hi":0.1}]},
"encoding":{
"y":{"field":"genus","type":"nominal","sort":["Lactobacillus","Duncaniella","Akkermansia","Muribaculum","Escherichia","Helicobacter","Ileibacterium","Bacteroides","Eisenbergiella"],"scale":{"paddingInner":0.3,"paddingOuter":0.15},"axis":{"title":null,"labelFontSize":30,"labelFontWeight":"bold","labelLimit":400,"ticks":false,"labelPadding":18,"domainWidth":2}},
"yOffset":{"field":"group","type":"nominal","sort":["CON","TEST"]}},
"layer":[
{"mark":{"type":"bar","stroke":"#777","strokeWidth":1.5},"encoding":{"x":{"field":"mean","type":"quantitative","scale":{"domain":[0,50],"nice":false},"axis":{"title":"Proportions(%)","titleFontSize":30,"titleFontWeight":"bold","titlePadding":14,"values":[0,10,20,30,40,50],"labelFontSize":30,"labelFlush":false,"tickSize":-14,"labelPadding":26,"domainWidth":3}},"color":{"field":"group","type":"nominal","legend":null,"scale":{"domain":["CON","TEST"],"range":["#1f77b4","#f57f20"]}}}},
{"mark":{"type":"rule","color":"#000","strokeWidth":2},"encoding":{"x":{"field":"mean","type":"quantitative"},"x2":{"field":"hi"}}},
{"mark":{"type":"tick","color":"#000","size":14,"thickness":2},"encoding":{"x":{"field":"hi","type":"quantitative"}}}
]},
{"width":44,"height":1,"data":{"values":[]},"mark":"point"},
{"width":433,"height":588.5,"title":{"text":"95% confidence intervals","fontSize":29,"fontWeight":"normal","anchor":"middle","offset":-30,"color":"#000"},
"view":{"stroke":"#000","strokeWidth":2},
"data":{"values":[
{"genus":"Lactobacillus","d":25.2,"lo":17.5,"hi":33.3,"group":"CON","p":"0.00008","star":"***"},
{"genus":"Duncaniella","d":-6.2,"lo":-12.3,"hi":-1,"group":"TEST","p":"0.03556","star":"*"},
{"genus":"Akkermansia","d":-7.3,"lo":-16.2,"hi":-0.7,"group":"TEST","p":"0.00643","star":"**"},
{"genus":"Muribaculum","d":-3,"lo":-4.5,"hi":-1.5,"group":"TEST","p":"0.00162","star":"**"},
{"genus":"Escherichia","d":-3.1,"lo":-6.5,"hi":0,"group":"TEST","p":"0.00955","star":"**"},
{"genus":"Helicobacter","d":-2.1,"lo":-3.5,"hi":-0.8,"group":"TEST","p":"0.03278","star":"*"},
{"genus":"Ileibacterium","d":1.3,"lo":0.3,"hi":2.3,"group":"CON","p":"0.01478","star":"*"},
{"genus":"Bacteroides","d":-0.4,"lo":-0.8,"hi":0,"group":"TEST","p":"0.00475","star":"**"},
{"genus":"Eisenbergiella","d":0.4,"lo":0.1,"hi":0.7,"group":"CON","p":"0.00156","star":"**"}]},
"encoding":{"y":{"field":"genus","type":"nominal","sort":["Lactobacillus","Duncaniella","Akkermansia","Muribaculum","Escherichia","Helicobacter","Ileibacterium","Bacteroides","Eisenbergiella"],"axis":null,"scale":{"paddingInner":0.3,"paddingOuter":0.15}}},
"layer":[
{"mark":{"type":"rule","color":"#777","strokeDash":[8,6],"strokeWidth":2},"encoding":{"x":{"datum":0,"type":"quantitative","scale":{"domain":[-20,40],"nice":false},"axis":{"title":"Difference between proportions(%)","titleFontSize":30,"titleFontWeight":"bold","titlePadding":14,"values":[-20,-10,0,10,20,30,40],"labelExpr":"''+datum.value","labelFontSize":30,"labelFlush":false,"tickSize":-14,"labelPadding":26,"domainWidth":3}},"y":null}},
{"mark":{"type":"rule","color":"#000","strokeWidth":2},"encoding":{"x":{"field":"lo","type":"quantitative"},"x2":{"field":"hi"}}},
{"mark":{"type":"tick","color":"#000","size":14,"thickness":2},"encoding":{"x":{"field":"lo","type":"quantitative"}}},
{"mark":{"type":"tick","color":"#000","size":14,"thickness":2},"encoding":{"x":{"field":"hi","type":"quantitative"}}},
{"mark":{"type":"point","filled":true,"size":676,"opacity":1,"stroke":"#222","strokeWidth":1.5,"shape":"circle"},"encoding":{"x":{"field":"d","type":"quantitative"},"color":{"field":"group","type":"nominal","scale":{"domain":["CON","TEST"],"range":["#1f77b4","#f57f20"]},"legend":{"title":null,"orient":"none","legendX":612,"legendY":-37,"symbolType":"square","symbolSize":900,"symbolStrokeColor":"#777","symbolStrokeWidth":1.5,"symbolOpacity":1,"labelFontSize":30,"labelFontWeight":"bold","labelColor":"#000","rowPadding":16,"labelOffset":6}}}},
{"mark":{"type":"text","color":"#e02020","fontSize":24,"align":"left","dx":1,"dy":10},"encoding":{"x":{"datum":40,"type":"quantitative"},"text":{"field":"star"}}},
{"mark":{"type":"text","color":"#000","fontSize":25,"align":"left","dx":32,"dy":8},"encoding":{"x":{"datum":40,"type":"quantitative"},"text":{"field":"p"}}},
{"data":{"values":[{"t":"P_value"}]},"mark":{"type":"text","color":"#000","fontSize":27,"align":"left","dx":36,"baseline":"middle"},"encoding":{"x":{"datum":40,"type":"quantitative"},"y":{"value":-21},"text":{"field":"t"}}}
]}
]}
]}
